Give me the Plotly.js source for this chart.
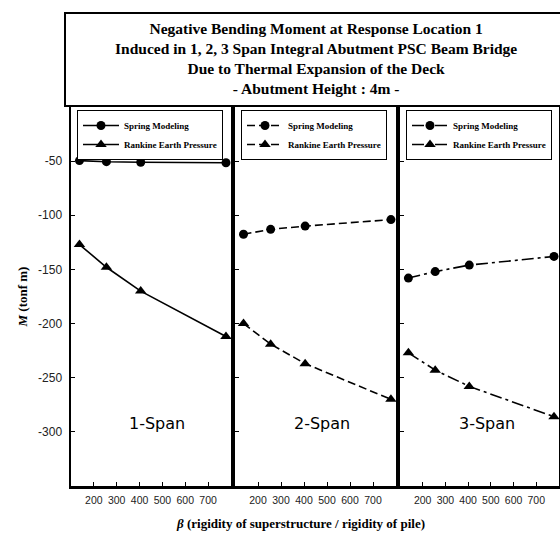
<!DOCTYPE html>
<html>
<head>
<meta charset="utf-8">
<script src="https://cdn.plot.ly/plotly-3.0.1.min.js"></script>
<style>
html,body{margin:0;padding:0;background:#fff;}
#chart{width:560px;height:534px;}
</style>
</head>
<body>
<div id="chart"></div>
<script>
// ---- data ----
const betaValues = [137, 255, 405, 778];
const spring1 = [-49.5, -50.5, -51, -51.5];
const rankine1 = [-127, -148, -170, -212];
const spring2 = [-117.5, -113, -110, -104];
const rankine2 = [-200, -219, -237, -270];
const spring3 = [-158, -152, -146, -138];
const rankine3 = [-227, -243, -258, -286];
const seriesNames = ["Spring Modeling", "Rankine Earth Pressure"];
const spanLabels = ["1-Span", "2-Span", "3-Span"];
const xTickVals = [200, 300, 400, 500, 600, 700];
const xTickText = ["200", "300", "400", "500", "600", "700"];
const yTickVals = [-300, -250, -200, -150, -100, -50];
const yTickText = ["-300", "-250", "-200", "-150", "-100", "-50"];
const titleLines = [
  "Negative Bending Moment at Response Location 1",
  "Induced in 1, 2, 3 Span Integral Abutment PSC Beam Bridge",
  "Due to Thermal Expansion of the Deck",
  "- Abutment Height : 4m -"
];

const W = 560, H = 534;
const px = v => v / W;
const py = v => 1 - v / H;
const serif = "Liberation Serif, Times New Roman, serif";
const sans = "Liberation Sans, Arial, sans-serif";

const dashes = ["solid", "8px,4px", "12px,4px,3px,4px"];
const springs = [spring1, spring2, spring3];
const rankines = [rankine1, rankine2, rankine3];
const legendIds = ["legend", "legend2", "legend3"];

const traces = [];
for (let i = 0; i < 3; i++) {
  const sfx = i === 0 ? "" : String(i + 1);
  traces.push({
    type: "scatter", mode: "lines+markers", x: betaValues, y: springs[i],
    xaxis: "x" + sfx, yaxis: "y" + sfx, name: seriesNames[0], legend: legendIds[i],
    line: {color: "black", width: 1.6, dash: dashes[i]},
    marker: {symbol: "circle", size: 9, color: "black"}
  });
  traces.push({
    type: "scatter", mode: "lines+markers", x: betaValues, y: rankines[i],
    xaxis: "x" + sfx, yaxis: "y" + sfx, name: seriesNames[1], legend: legendIds[i],
    line: {color: "black", width: 1.6, dash: dashes[i]},
    marker: {symbol: "triangle-up", size: 10, color: "black"}
  });
}

const panelX = [[71, 231], [235, 396], [400, 559]];
const yDom = [py(486), py(107)];

const layout = {
  width: W, height: H,
  margin: {l: 0, r: 0, t: 0, b: 0},
  paper_bgcolor: "white", plot_bgcolor: "white",
  showlegend: true,
  shapes: [{
    type: "rect", xref: "paper", yref: "paper",
    x0: px(65), x1: px(561), y0: py(106), y1: py(13),
    line: {color: "black", width: 2}, fillcolor: "rgba(0,0,0,0)", layer: "below"
  }],
  annotations: [
    {
      xref: "paper", yref: "paper", x: px(316), y: py(58), xanchor: "center", yanchor: "middle",
      showarrow: false, align: "center",
      text: "<b>" + titleLines.join("<br>") + "</b>",
      font: {family: serif, size: 15.5, color: "black"}
    },
    {
      xref: "paper", yref: "paper", x: px(300), y: py(523), xanchor: "center", yanchor: "middle",
      showarrow: false,
      text: "<b><i>β</i> (rigidity of superstructure / rigidity of pile)</b>",
      font: {family: serif, size: 13, color: "black"}
    }
  ]
};

const spanPos = [0.54, 0.54, 0.545];
for (let i = 0; i < 3; i++) {
  const sfx = i === 0 ? "" : String(i + 1);
  layout["xaxis" + sfx] = {
    domain: [px(panelX[i][0]), px(panelX[i][1])], anchor: "y" + sfx,
    range: [100, 800], tickvals: xTickVals, ticktext: xTickText,
    ticks: "inside", ticklen: 4, tickcolor: "black",
    showline: true, linewidth: 2.5, linecolor: "black", mirror: true,
    showgrid: false, zeroline: false, ticklabelstandoff: 3,
    tickfont: {family: sans, size: 10.5, color: "#222"}
  };
  layout["yaxis" + sfx] = {
    domain: yDom, anchor: "x" + sfx,
    range: [-350, 0], tickvals: yTickVals, ticktext: yTickText,
    ticks: "inside", ticklen: 4, tickcolor: "black",
    showline: true, linewidth: 2.5, linecolor: "black", mirror: true,
    showgrid: false, zeroline: false, showticklabels: i === 0, ticklabelstandoff: 4,
    tickfont: {family: sans, size: 12, color: "#222"}
  };
  layout[legendIds[i]] = {
    x: px(panelX[i][0] + 6), y: py(110), xanchor: "left", yanchor: "top",
    bgcolor: "white", bordercolor: "black", borderwidth: 1,
    font: {family: serif, size: 9, color: "black", weight: "bold"},
    itemwidth: 36, tracegroupgap: 0
  };
  layout.annotations.push({
    xref: "x" + sfx + " domain", yref: "y" + sfx, x: spanPos[i], y: -292,
    xanchor: "center", yanchor: "middle", showarrow: false,
    text: spanLabels[i], font: {family: "DejaVu Sans, sans-serif", size: 16, color: "black"}
  });
}
layout.yaxis.title = {
  text: "<b><i>M</i> (tonf m)</b>", standoff: 8,
  font: {family: serif, size: 13, color: "black"}
};

Plotly.newPlot("chart", traces, layout, {staticPlot: true, displayModeBar: false});
</script>
</body>
</html>
